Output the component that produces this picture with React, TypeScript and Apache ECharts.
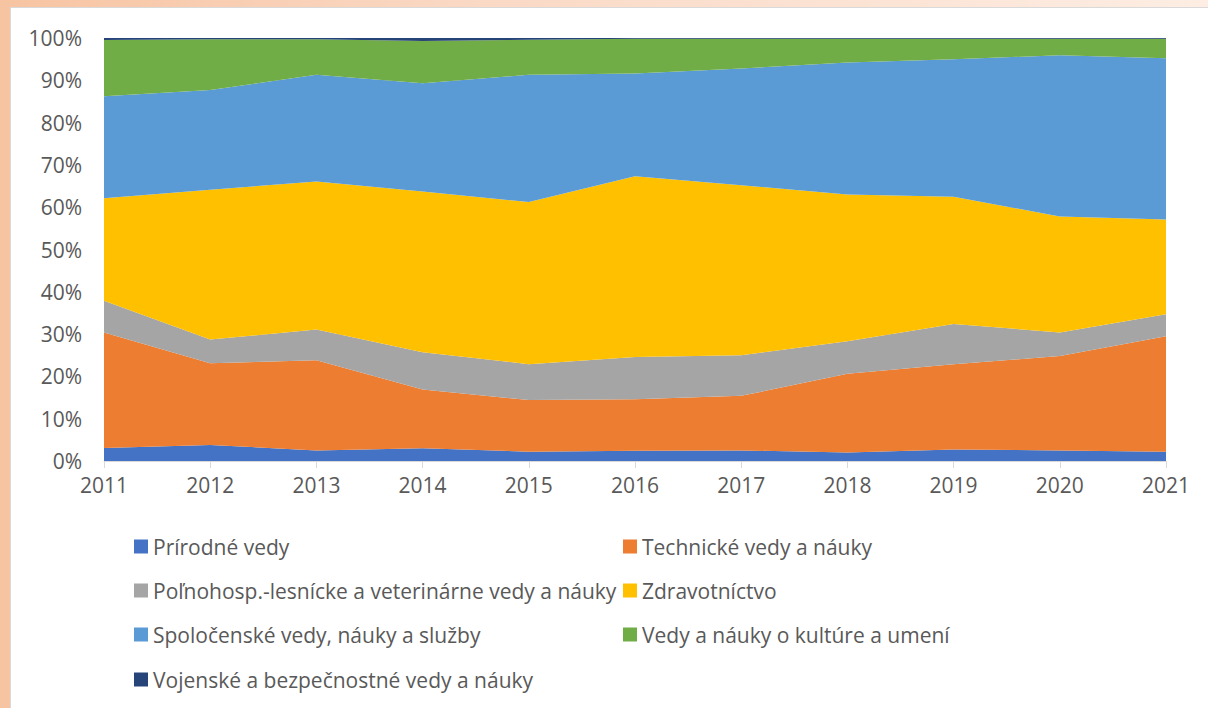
import React, { useEffect, useRef } from "react";
import * as echarts from "echarts";

const years = ["2011", "2012", "2013", "2014", "2015", "2016", "2017", "2018", "2019", "2020", "2021"];
const yTicks = [0, 10, 20, 30, 40, 50, 60, 70, 80, 90, 100];

const seriesNames = [
  "Prírodné vedy",
  "Technické vedy a náuky",
  "Poľnohosp.-lesnícke a veterinárne vedy a náuky",
  "Zdravotníctvo",
  "Spoločenské vedy, náuky a služby",
  "Vedy a náuky o kultúre a umení",
  "Vojenské a bezpečnostné vedy a náuky",
];

const prirodne = [3.1, 3.8, 2.5, 3.0, 2.2, 2.4, 2.5, 2.0, 2.7, 2.5, 2.2];
const technicke = [27.3, 19.3, 21.3, 13.9, 12.2, 12.2, 12.9, 18.6, 20.2, 22.3, 27.3];
const polnohosp = [7.5, 5.6, 7.3, 8.8, 8.5, 10.0, 9.6, 7.7, 9.5, 5.6, 5.2];
const zdravotnictvo = [24.2, 35.4, 35.0, 38.0, 38.3, 42.7, 40.2, 34.7, 30.1, 27.4, 22.4];
const spolocenske = [24.1, 23.6, 25.2, 25.6, 30.1, 24.3, 27.6, 31.2, 32.5, 38.1, 38.1];
const kultura = [13.3, 12.0, 8.4, 10.0, 8.3, 8.2, 7.0, 5.6, 4.8, 3.9, 4.6];
const vojenske = [0.5, 0.3, 0.3, 0.7, 0.4, 0.2, 0.2, 0.2, 0.2, 0.2, 0.2];

const seriesData = [prirodne, technicke, polnohosp, zdravotnictvo, spolocenske, kultura, vojenske];
const colors = ["#4472C4", "#ED7D31", "#A5A5A5", "#FFC000", "#5B9BD5", "#70AD47", "#264478"];

// legend grid: [col, row] for each series
const legendCells = [
  [0, 0],
  [1, 0],
  [0, 1],
  [1, 1],
  [0, 2],
  [1, 2],
  [0, 3],
];

const FONT = "'Open Sans', 'Liberation Sans', sans-serif";
const TEXT_COLOR = "#595959";

export default function App() {
  const ref = useRef<HTMLDivElement>(null);

  useEffect(() => {
    document.body.style.margin = "0";
    if (!ref.current) return;
    const chart = echarts.init(ref.current, undefined, { renderer: "svg" });
    const colX = [123, 612];
    const rowY = [528, 572, 616, 661];
    chart.setOption({
      animation: false,
      backgroundColor: "#FFFFFF",
      textStyle: { fontFamily: FONT },
      grid: { left: 93, right: 42, top: 30, bottom: 247, containLabel: false },
      legend: seriesNames.map((name, i) => ({
        data: [name],
        left: colX[legendCells[i][0]],
        top: rowY[legendCells[i][1]],
        padding: 0,
        itemWidth: 14,
        itemHeight: 14,
        icon: "rect",
        selectedMode: false,
        textStyle: { color: TEXT_COLOR, fontSize: 21, fontFamily: FONT, lineHeight: 21 },
      })),
      xAxis: {
        type: "category",
        data: years,
        boundaryGap: false,
        axisLine: { show: true, lineStyle: { color: "#D9D9D9", width: 1 } },
        axisTick: { show: true, length: 7, alignWithLabel: true, lineStyle: { color: "#D9D9D9" } },
        axisLabel: { color: TEXT_COLOR, fontSize: 21, margin: 13, fontFamily: FONT },
        splitLine: { show: false },
      },
      yAxis: {
        type: "value",
        min: yTicks[0],
        max: yTicks[yTicks.length - 1],
        interval: 10,
        axisLine: { show: false },
        axisTick: { show: false },
        axisLabel: { color: TEXT_COLOR, fontSize: 21, margin: 22, formatter: "{value}%", fontFamily: FONT },
        splitLine: { show: true, lineStyle: { color: "#D9D9D9" } },
      },
      series: seriesNames.map((name, i) => ({
        name,
        type: "line",
        stack: "total",
        data: seriesData[i],
        symbol: "none",
        showSymbol: false,
        lineStyle: { width: 0 },
        areaStyle: { color: colors[i], opacity: 1 },
        itemStyle: { color: colors[i] },
        emphasis: { disabled: true },
      })),
    });
    return () => chart.dispose();
  }, []);

  return (
    <div
      style={{
        position: "fixed",
        left: 0,
        top: 0,
        width: 1208,
        height: 708,
        overflow: "hidden",
        background: "linear-gradient(90deg, #F7C4A2 0%, #FAD9C5 40%, #FDEDE3 100%)",
      }}
    >
      <div
        style={{
          position: "absolute",
          left: 10,
          top: 7,
          width: 1198,
          height: 701,
          background: "#FFFFFF",
          borderTop: "1px solid #D9D9D9",
          borderLeft: "1px solid #D9D9D9",
          boxSizing: "border-box",
        }}
      >
        <div ref={ref} style={{ width: 1197, height: 700 }} />
      </div>
    </div>
  );
}
